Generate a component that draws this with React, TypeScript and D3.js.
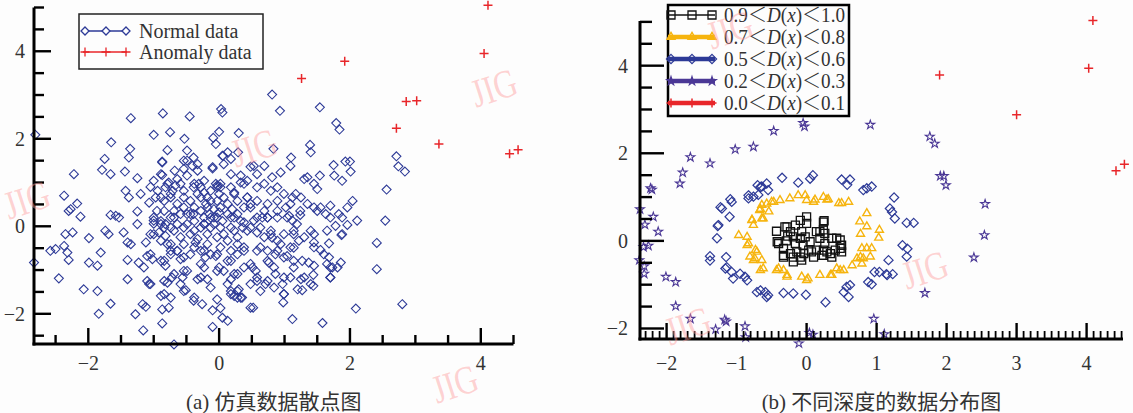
import React from "react";
import * as d3 from "d3";

// ---------- data ----------
const normalData: [number, number][] = [
  [0.03,2.68],[0.05,2.60],[-0.86,2.58],[-0.45,2.51],[-1.35,2.47],[-2.81,2.09],[0.30,2.13],[0.0,2.16],[-0.09,2.02],[-0.05,1.88],
  [-0.75,2.15],[-1.0,2.09],[-0.53,2.0],[-1.65,1.92],[-1.36,1.77],[-0.79,1.74],[-0.49,1.73],[0.06,1.61],[0.29,1.69],[-1.38,1.57],
  [-1.75,1.54],[-0.87,1.48],[-0.49,1.50],[-0.39,1.57],[-0.33,1.42],[-0.10,1.32],[0.07,1.42],[0.18,1.54],[0.48,1.36],[-1.79,1.29],
  [-1.66,1.19],[-2.22,1.19],[-1.44,1.25],[-1.25,1.10],[-0.87,1.17],[-0.68,1.27],[-0.54,1.31],[-1.05,0.90],[-0.79,0.97],[-0.64,1.08],
  [-0.31,0.97],[-0.03,0.93],[0.18,1.19],[0.33,1.16],[0.38,0.97],[-2.37,0.70],[-1.43,0.81],[-1.38,0.66],[-1.20,0.74],[-2.17,0.52],
  [-2.27,0.39],[-2.12,0.22],[-1.66,0.26],[-1.53,0.20],[-1.25,0.34],[-1.07,0.54],[-0.89,0.66],[-0.74,0.74],[-0.54,0.66],[-0.39,0.89],
  [-0.23,0.77],[0.02,0.89],[0.23,0.77],[0.43,0.66],[0.48,0.51],[-1.0,0.06],[-1.25,0.05],[-0.82,0.05],[-0.69,0.20],[-0.54,0.43],
  [-0.39,0.28],[-0.18,0.43],[-0.08,0.20],[0.0,0.32],[0.18,0.20],[0.38,0.09],[-0.23,0.05],
  [0.81,3.01],[0.93,2.64],[1.54,2.72],[1.79,2.36],[1.84,2.21],[1.39,1.86],[1.40,1.69],[0.83,1.77],[1.10,1.57],[1.09,1.38],
  [1.75,1.40],[1.93,1.48],[2.0,1.48],[2.01,1.25],[1.76,1.16],[1.88,1.04],[2.71,1.60],[2.74,1.37],[2.84,1.25],[2.56,0.84],
  [2.54,0.13],[0.53,1.38],[0.58,1.19],[0.69,1.38],[0.94,1.23],[0.81,1.12],[1.30,1.08],[1.35,1.12],[1.54,1.16],[1.45,0.97],
  [1.50,0.85],[1.17,0.74],[1.25,0.66],[1.12,0.66],[1.02,0.43],[1.07,0.24],[1.12,0.13],[1.24,0.26],[1.45,0.43],[1.55,0.43],
  [1.70,0.47],[1.63,0.28],[1.83,0.28],[1.96,0.43],[2.04,0.58],[1.78,0.01],[1.96,0.03],[2.11,0.13],[1.40,-0.10],[1.45,-0.18],
  [1.88,-0.18],[1.65,-0.10],[0.58,0.89],[0.69,0.97],[0.79,0.81],[0.89,0.89],[0.69,0.35],[0.66,0.20],[0.74,0.20],[0.89,0.35],
  [0.53,0.13],[0.63,-0.03],[0.79,-0.18],[0.99,-0.18],[1.14,-0.18],
  [2.41,-0.38],[2.41,-0.98],[2.80,-1.78],[2.09,-1.88],[1.58,-2.21],[1.12,-2.12],[0.52,-1.86],[1.87,-0.20],[1.68,-0.39],[1.55,-0.54],
  [1.45,-0.37],[1.68,-0.71],[1.86,-0.83],[1.70,-0.94],[1.81,-0.94],[1.70,-1.17],[1.44,-1.11],[1.44,-1.36],[1.25,-1.21],[1.14,-0.94],
  [1.27,-0.79],[1.37,-0.83],[1.20,-1.44],[1.27,-1.46],[0.99,-1.55],[0.98,-1.74],[0.97,-1.32],[0.86,-1.09],[0.76,-0.83],[0.71,-1.32],
  [0.58,-1.25],[0.56,-1.02],[1.04,-0.68],[1.14,-0.49],[1.22,-0.33],[0.86,-0.64],[0.94,-0.41],[0.81,-0.26],[0.35,-1.63],
  [-2.83,-0.83],[-2.58,-0.56],[-2.50,-0.52],[-2.37,-0.45],[-2.32,-0.60],[-2.30,-0.77],[-2.45,-1.19],[-2.35,-0.18],[-2.24,-0.14],[-2.30,0.35],
  [-1.99,-0.27],[-1.81,-0.60],[-1.99,-0.83],[-1.86,-0.90],[-2.07,-1.44],[-1.86,-1.48],[-1.66,-1.77],[-1.84,-2.0],[-1.58,0.24],[-1.74,-0.10],
  [-1.69,-0.18],[-1.46,-0.14],[-1.40,-0.37],[-1.35,-0.41],[-1.12,-0.37],[-1.10,-0.68],[-1.40,-0.77],[-1.23,-0.83],[-1.15,-0.94],[-1.40,-1.21],
  [-1.10,-1.25],[-1.07,-1.32],[-1.17,-1.78],[-1.12,-1.84],[-1.28,-2.01],[-1.16,-2.38],[-0.87,-2.22],[-0.87,-1.90],[-0.77,-1.86],[-0.74,-1.63],
  [-0.84,-1.55],[-0.79,-1.29],[-0.72,-1.17],[-0.51,-1.46],[-0.39,-1.70],[-0.26,-1.78],[-0.10,-1.92],[0.02,-1.87],[-0.10,-2.30],[0.05,-2.09],
  [0.13,-2.16],[-0.69,-2.70],[-1.02,-0.75],[-0.89,-0.79],[-0.82,-0.90],[-1.0,0.13],[-0.89,0.05],[-1.05,-0.18],[-0.92,-0.14],[-0.82,-0.22],
  [-0.79,-0.41],[-0.74,-0.64],[-0.64,-0.56],[-0.59,-0.75],[-0.54,-1.02],[-0.56,-1.17],[-0.36,-0.37],[-0.28,-0.56],[-0.21,-0.71],[-0.23,-0.94],
  [-0.18,-1.21],[-0.33,-1.21],[-0.05,-0.68],[0.0,-0.94],[0.07,-1.02],[0.18,-0.79],[0.28,-1.09],[0.18,-1.21],[0.30,-1.44],[0.18,-1.48],
  [0.23,-1.59],[0.33,-1.63],[0.48,-1.86],[0.51,-0.94],[0.38,-0.56],
  [-0.87,1.46],[-0.89,1.19],[-0.95,0.35],[-0.77,1.0],[-0.67,0.93],[-0.54,1.50],[-0.41,1.38],[-0.49,1.16],[-0.33,1.27],[-0.23,1.04],
  [-0.10,1.35],[0.05,1.61],[0.13,1.69],[-0.05,0.97],[0.02,0.97],[0.18,0.89],[0.33,1.0],[0.43,1.04],[0.0,0.74],[-0.18,0.66],
  [-0.33,0.74],[-0.44,0.58],[-0.54,0.81],[-0.64,0.51],[-0.74,0.66],[-0.84,0.58],[-0.97,0.66],[-1.0,0.20],[-0.84,-0.03],[-0.69,-0.10],
  [-0.59,-0.25],[-0.44,-0.18],[-0.33,-0.29],[-0.23,0.20],[-0.13,0.20],[-0.08,0.39],[0.02,0.43],[0.13,0.51],[0.28,0.58],[0.38,0.43],
  [0.23,0.20],[0.33,0.12],[0.18,-0.03],[0.43,-0.10],[0.28,-0.25],[0.07,-0.18],[-0.03,-0.25],[-0.13,-0.03],[-0.28,-0.03],[-0.38,0.12],
  [-0.49,0.28],[-0.74,0.20],[-0.89,0.12],[-1.05,-0.64],[-0.84,-0.79],[-0.74,-0.56],[-0.54,-0.71],[-0.38,-0.48],[-0.28,-0.86],[-0.13,-0.64],
  [0.02,-0.48],[0.13,-0.79],[0.28,-0.64],[0.38,-0.48],[0.48,-0.86],[0.58,-0.56],[0.74,-0.79],[0.84,-0.94],[0.99,-0.71],[1.09,-0.48],
  [1.14,-0.10],[1.24,0.35],[1.35,0.51],[1.50,0.35],[1.70,0.20],[1.88,0.20],[1.65,-0.86],[1.73,-0.94],[1.45,-0.90],[1.30,-1.17],
  [1.09,-1.17],[0.99,-1.55],[1.40,-1.32],[1.70,-1.17],[-1.05,-1.32],[-0.89,-1.59],[-0.54,-1.48],[-0.38,-1.63],[-0.03,-1.67],[0.18,-1.55],
  [0.28,-1.63],[0.48,-1.32],[0.58,-1.17],[0.74,-1.25],
  [-1.0,1.04],[-0.94,0.81],[-0.82,0.89],[-0.71,0.81],[-0.59,0.97],[-0.38,0.97],[-0.28,0.89],[-0.13,0.81],[-0.03,0.89],[-0.38,0.43],
  [-0.28,0.35],[-0.20,0.51],[-0.15,0.28],[-0.08,0.05],[-0.03,0.20],[0.05,0.12],[0.13,0.28],[0.20,0.39],[0.28,0.28],[0.36,-0.03],
  [0.48,-0.03],[0.58,-0.14],[0.58,0.20],[0.69,-0.25],[0.79,-0.10],[0.89,-0.33],[0.63,-0.48],[0.74,-0.56],[0.89,-0.56],[0.28,-0.41],
  [0.18,-0.56],[-0.03,-0.64],[-0.23,-0.56],[-0.44,-0.64],[-0.64,-0.56],[-0.74,-0.41],[-0.89,-0.33],[-1.0,-0.18],[-0.54,-0.41],[-0.18,-0.41],
  [0.13,-0.33],[-0.64,0.05],[-0.54,-0.03],[-0.74,-0.03],[-0.18,-0.18],[0.02,-0.03],[0.23,-0.10],[-0.38,-0.10],[-0.49,0.05],[-0.23,0.05],
  [-0.59,0.28],[-0.69,0.35],[-0.84,0.35],[-0.44,0.28],[-0.03,0.58],[-0.13,0.58],[-0.28,0.66],[0.07,0.66],[0.23,0.74],[0.43,0.66],
  [0.48,0.43],[0.58,0.58],[0.74,0.51],[0.89,0.58],[0.99,0.74],[1.09,0.51],[1.04,0.20],[0.89,0.20],[0.74,0.20],[1.19,0.05],
  [1.30,-0.25],[1.45,-0.48],[1.60,-0.64],[1.14,-0.79],[0.38,-0.94],[0.23,-1.09],[-0.03,-1.02],[-0.28,-1.17],[-0.49,-1.02],[-0.69,-1.09],
  [-0.84,-1.25],[-0.59,-1.32],[-0.13,-1.40],[0.13,-1.32],[0.28,-1.48],[0.63,-1.48],[0.84,-1.40],[0.99,-1.17],
];

const anomalyData: [number, number][] = [
  [4.11,5.05],[4.05,3.95],[1.92,3.77],[1.26,3.38],[2.86,2.85],[3.02,2.87],[2.71,2.24],[3.36,1.88],[4.44,1.66],[4.57,1.75],
];

// depth groups, right panel
const depth09: [number, number][] = [
  [-0.43,0.22],[-0.42,-0.02],[-0.31,0.32],[-0.27,0.11],[-0.29,0.0],[-0.33,-0.17],[-0.23,-0.29],[-0.14,-0.25],[-0.33,-0.37],[-0.19,-0.37],
  [-0.09,-0.37],[-0.16,0.36],[-0.09,0.47],[0.0,0.55],[0.0,0.40],[-0.07,0.21],[-0.02,0.09],[-0.09,0.06],[-0.19,0.09],[-0.23,0.21],
  [-0.16,-0.06],[-0.05,-0.10],[0.05,-0.02],[0.03,-0.21],[0.07,-0.25],[0.10,-0.37],[-0.04,-0.29],[0.19,0.21],[0.24,0.25],[0.26,0.17],
  [0.19,0.06],[0.26,-0.06],[0.24,-0.21],[0.29,-0.25],[0.24,-0.33],[0.36,0.06],[0.43,0.06],[0.48,0.02],[0.50,-0.10],[0.41,-0.21],
  [0.48,-0.17],[0.36,-0.37],[0.25,0.46],[-0.40,-0.06],[-0.33,-0.33],[-0.28,0.32],[-0.19,-0.48],[-0.07,-0.44],[0.14,-0.21],[0.24,0.43],
  [0.50,-0.25],[0.34,-0.29],[0.22,-0.33],[0.14,0.21],
];
const depth07: [number, number][] = [
  [-0.64,0.82],[-0.67,0.70],[-0.54,0.67],[-0.50,0.89],[-0.38,0.93],[-0.24,0.97],[-0.12,1.04],[-0.02,1.04],[0.0,0.93],[0.10,0.89],
  [0.24,1.0],[0.31,0.95],[0.46,0.86],[0.50,0.86],[0.60,0.89],[0.86,0.63],[0.76,0.44],[1.04,0.25],[-0.78,0.48],[-0.64,0.51],
  [-0.97,0.13],[-0.85,0.09],[-0.83,-0.06],[-0.73,-0.21],[-0.81,-0.36],[-0.76,-0.44],[-0.64,-0.44],[-0.62,-0.63],[-0.40,-0.63],[-0.28,-0.78],
  [-0.07,-0.82],[0.02,-0.86],[0.19,-0.78],[0.36,-0.78],[0.43,-0.63],[0.53,-0.67],[0.65,-0.56],[0.72,-0.40],[0.81,-0.40],[0.86,-0.17],
  [0.93,-0.17],[0.79,-0.17],[0.91,-0.36],[0.79,-0.52],[-0.85,-0.10],[-0.74,-0.40],[-0.71,-0.25],[-0.66,-0.67],[-0.43,-0.67],[-0.33,-0.67],
  [-0.28,-0.82],[0.0,-0.90],[0.34,-0.78],[0.48,-0.67],[0.77,-0.37],[0.86,0.33],[0.77,0.16],[1.03,0.07],[0.29,0.94],[0.12,0.94],
  [-0.47,0.89],[-0.57,0.85],[-0.66,0.73],[-0.78,0.47],[-0.76,0.36],[-0.62,0.51],
];
const depth05: [number, number][] = [
  [-0.35,1.44],[-0.12,1.33],[0.05,1.42],[0.09,1.50],[0.50,1.40],[0.62,1.40],[0.58,1.28],[0.81,1.16],[0.86,1.20],[-0.70,1.27],
  [-0.64,1.24],[-0.57,1.31],[-0.55,1.16],[-0.83,0.97],[-0.76,1.01],[-0.69,1.05],[-1.09,0.95],[-1.07,0.89],[-1.23,0.77],[-1.10,0.55],
  [-1.27,0.34],[-1.28,0.06],[-1.38,-0.35],[-1.15,-0.37],[-1.14,-0.60],[-1.07,-0.71],[-0.95,-0.75],[-0.85,-0.90],[-0.88,-0.82],[-1.05,-0.86],
  [-0.71,-1.17],[-0.59,-1.17],[-0.57,-1.28],[-0.33,-1.19],[-0.19,-1.20],[-0.01,-1.23],[0.27,-1.40],[0.53,-1.17],[0.60,-1.28],[0.62,-1.01],
  [0.88,-0.94],[0.97,-0.71],[0.93,1.24],[1.25,0.99],[1.19,0.74],[1.22,0.66],[1.26,0.51],[1.43,0.41],[1.53,0.41],[1.37,-0.10],
  [1.44,-0.18],[1.43,-0.36],[1.17,-0.44],[1.04,-0.71],[1.14,-0.76],[1.23,-0.76],[0.93,-0.99],[1.15,-0.78],[0.57,-1.05],[-0.66,-1.13],
  [-0.55,-1.24],[-1.16,-0.63],[-1.38,-0.45],[-1.26,0.36],[-1.21,0.74],[-0.83,1.04],[-0.66,1.23],
];
const depth02: [number, number][] = [
  [-0.47,2.51],[-0.05,2.69],[-0.03,2.61],[0.91,2.65],[-1.02,2.09],[-0.76,2.15],[-1.66,1.91],[-1.38,1.77],[-1.77,1.56],[-1.81,1.31],
  [-2.23,1.20],[-2.21,1.17],[-2.38,0.72],[-2.19,0.55],[-2.31,0.37],[-2.12,0.21],[-2.33,-0.14],[-2.26,-0.11],[-2.39,-0.44],[-2.32,-0.58],
  [-2.32,-0.75],[-2.01,-0.82],[-1.87,-0.94],[-1.87,-1.49],[-1.66,-1.78],[-1.17,-1.80],[-1.15,-1.84],[-1.30,-2.02],[-0.88,-1.95],[-0.87,-2.20],
  [-0.11,-2.34],[0.04,-2.10],[0.09,-2.14],[0.96,-1.78],[1.11,-2.13],[1.69,-1.19],[1.76,2.38],[1.83,2.22],[1.91,1.48],[1.96,1.48],
  [1.99,1.27],[2.55,0.84],[2.54,0.13],[2.39,-0.38],
];
const depth00: [number, number][] = [
  [4.09,5.03],[4.03,3.94],[1.90,3.79],[3.00,2.88],[4.42,1.60],[4.54,1.75],
];

const leftTicks = [-2, 0, 2, 4];
const rightXTicks = [-2, -1, 0, 1, 2, 3, 4];
const rightYTicks = [-2, 0, 2, 4];
const leftLegend = ["Normal data", "Anomaly data"];
const rightLegend: [string, string][] = [["0.9", "1.0"], ["0.7", "0.8"], ["0.5", "0.6"], ["0.2", "0.3"], ["0.0", "0.1"]];
const captions = ["(a) 仿真数据散点图", "(b) 不同深度的数据分布图"];
const watermarks: [number, number][] = [[27, 200], [254, 148], [494, 88], [455, 384], [730, 30], [688, 326], [925, 270]];

// ---------- styling ----------
const NAVY = "#2d3a97";
const RED = "#e8262a";
const ORANGE = "#f6b40e";
const PURPLE = "#4b3896";
const SERIF = "'Liberation Serif', 'Times New Roman', serif";
const CJK = "'Liberation Serif', 'Noto Sans CJK SC', serif";

const diamond = (r: number) => `M0,${-r}L${r},0L0,${r}L${-r},0Z`;
const square = (r: number) => `M${-r},${-r}H${r}V${r}H${-r}Z`;
const tri = (r: number) => `M0,${-r}L${r * 0.87},${r * 0.5}L${-r * 0.87},${r * 0.5}Z`;
const plus = (r: number) => `M${-r},0H${r}M0,${-r}V${r}`;
const star = d3.symbol(d3.symbolStar, 24)() as string;

function range(a: number, b: number, s: number) {
  const n = Math.round((b - a) / s);
  return d3.range(n + 1).map((i) => +(a + i * s).toFixed(4));
}

export default function App() {
  // left panel scales
  const xL = d3.scaleLinear().domain([-2.83, 4.5]).range([34, 513.5]);
  const yL = d3.scaleLinear().domain([-2.69, 5.0]).range([344, 7.5]);
  // right panel scales
  const xR = d3.scaleLinear().domain([-2.38, 4.52]).range([640, 1123]);
  const yR = d3.scaleLinear().domain([-2.24, 5.02]).range([339, 21]);

  const lx0 = xL(-2.83), ly0 = yL(-2.69);
  const rx0 = xR(-2.38), ry0 = yR(-2.24);

  const leftXMinor = range(-2.5, 4.5, 0.5);
  const leftYMinor = range(-2.5, 5.0, 0.5);
  const rightXMinor = range(-2.3, 4.5, 0.1);
  const rightYMinor = range(-2.0, 5.0, 0.5);

  const isMajorEven = (v: number) => Math.abs(v / 2 - Math.round(v / 2)) < 1e-6;
  const isInt = (v: number) => Math.abs(v - Math.round(v)) < 1e-6;

  const tickLabel = (v: number) => (v < 0 ? "\u2212" + Math.abs(v) : String(v));

  const symbolsRight = [
    { d: depth09, path: square(4), stroke: "#111", sw: 1.3, lineW: 1.3 },
    { d: depth07, path: tri(4.6), stroke: ORANGE, sw: 1.4, lineW: 4.5 },
    { d: depth05, path: diamond(4.6), stroke: NAVY, sw: 1.2, lineW: 4.5 },
    { d: depth02, path: star, stroke: PURPLE, sw: 1.1, lineW: 4.5 },
    { d: depth00, path: plus(4.5), stroke: RED, sw: 1.5, lineW: 4.5 },
  ];
  const drawOrder = [2, 3, 1, 0, 4];

  return (
    <div style={{ position: "absolute", left: 0, top: 0 }}>
      <svg width={1133} height={413} style={{ display: "block", background: "#fdfdfd" }}>
        <rect x={0} y={0} width={1133} height={413} fill="#fdfdfd" />

        {/* ---------------- LEFT PANEL ---------------- */}
        <g>
          {normalData.map(([x, y], i) => (
            <path key={"n" + i} d={diamond(4.5)} transform={`translate(${xL(x)},${yL(y)})`} fill="none" stroke={NAVY} strokeWidth={1.1} />
          ))}
          {anomalyData.map(([x, y], i) => (
            <path key={"a" + i} d={plus(4.5)} transform={`translate(${xL(x)},${yL(y)})`} fill="none" stroke={RED} strokeWidth={1.5} />
          ))}
          {/* axes */}
          <line x1={lx0} x2={lx0} y1={yL(5.0)} y2={ly0 + 1.5} stroke="#000" strokeWidth={3} />
          <line x1={lx0 - 1.5} x2={xL(4.5)} y1={ly0} y2={ly0} stroke="#000" strokeWidth={3} />
          {leftXMinor.map((t) => (
            <line key={"lxm" + t} x1={xL(t)} x2={xL(t)} y1={ly0} y2={ly0 - (isMajorEven(t) ? 16 : 9)} stroke="#000" strokeWidth={2.4} />
          ))}
          {leftYMinor.map((t) => (
            <line key={"lym" + t} x1={lx0} x2={lx0 + (isMajorEven(t) ? 17 : 10)} y1={yL(t)} y2={yL(t)} stroke="#000" strokeWidth={2.4} />
          ))}
          {leftTicks.map((t) => (
            <text key={"lxl" + t} x={xL(t)} y={370} textAnchor="middle" fontFamily={SERIF} fontSize={20} fill="#333">{tickLabel(t)}</text>
          ))}
          {leftTicks.map((t) => (
            <text key={"lyl" + t} x={lx0 - 9} y={yL(t) + 7} textAnchor="end" fontFamily={SERIF} fontSize={20} fill="#333">{tickLabel(t)}</text>
          ))}
          {/* legend */}
          <rect x={79} y={14} width={184} height={55} fill="#fdfdfd" stroke="#222" strokeWidth={1.5} />
          {leftLegend.map((label, i) => {
            const yy = 31 + i * 21;
            const col = i === 0 ? NAVY : RED;
            const p = i === 0 ? diamond(4) : plus(4.5);
            return (
              <g key={"ll" + i}>
                <line x1={83} x2={127} y1={yy} y2={yy} stroke={col} strokeWidth={1.3} />
                {[85, 106, 126].map((mx) => (
                  <path key={mx} d={p} transform={`translate(${mx},${yy})`} fill={i === 0 ? "#fdfdfd" : "none"} stroke={col} strokeWidth={1.3} />
                ))}
                <text x={139} y={yy + 7} fontFamily={SERIF} fontSize={20} fill="#333">{label}</text>
              </g>
            );
          })}
          <text x={(xL(-2.83) + xL(4.5)) / 2} y={409} textAnchor="middle" fontFamily={CJK} fontSize={21} fill="#333">{captions[0]}</text>
        </g>

        {/* ---------------- RIGHT PANEL ---------------- */}
        <g>
          {drawOrder.map((k) => {
            const s = symbolsRight[k];
            return s.d.map(([x, y], i) => (
              <path key={"r" + k + "_" + i} d={s.path} transform={`translate(${xR(x)},${yR(y)})`} fill="none" stroke={s.stroke} strokeWidth={s.sw} />
            ));
          })}
          <line x1={rx0} x2={rx0} y1={yR(5.02)} y2={ry0 + 1.5} stroke="#000" strokeWidth={3} />
          <line x1={rx0 - 1.5} x2={xR(4.52)} y1={ry0} y2={ry0} stroke="#000" strokeWidth={3} />
          {rightXMinor.map((t) => (
            <line key={"rxm" + t} x1={xR(t)} x2={xR(t)} y1={ry0} y2={ry0 - (isInt(t) ? 16 : 8)} stroke="#000" strokeWidth={isInt(t) ? 2.4 : 1.8} />
          ))}
          {rightYMinor.map((t) => (
            <line key={"rym" + t} x1={rx0} x2={rx0 + (isMajorEven(t) ? 24 : 12)} y1={yR(t)} y2={yR(t)} stroke="#000" strokeWidth={2.4} />
          ))}
          {rightXTicks.map((t) => (
            <text key={"rxl" + t} x={xR(t)} y={370} textAnchor="middle" fontFamily={SERIF} fontSize={20} fill="#333">{tickLabel(t)}</text>
          ))}
          {rightYTicks.map((t) => (
            <text key={"ryl" + t} x={rx0 - 12} y={yR(t) + 7} textAnchor="end" fontFamily={SERIF} fontSize={20} fill="#333">{tickLabel(t)}</text>
          ))}
          {/* legend */}
          <rect x={668} y={5} width={181} height={111} fill="#fdfdfd" stroke="#000" strokeWidth={2.5} />
          {rightLegend.map(([lo, hi], i) => {
            const yy = 15 + i * 22;
            const s = symbolsRight[i];
            return (
              <g key={"rl" + i}>
                <line x1={668} x2={715} y1={yy} y2={yy} stroke={s.stroke} strokeWidth={s.lineW} />
                {[671, 692, 712].map((mx) => (
                  <path key={mx} d={s.path} transform={`translate(${mx},${yy})`} fill="none" stroke={s.stroke} strokeWidth={s.sw} />
                ))}
                <text x={724} y={yy + 7} fontFamily={SERIF} fontSize={20} fill="#333" textLength={121} lengthAdjust="spacingAndGlyphs">
                  {lo}
                  <tspan fontFamily="'Noto Sans CJK SC'" fontWeight={300}>＜</tspan>
                  <tspan fontStyle="italic">D</tspan>(<tspan fontStyle="italic">x</tspan>)
                  <tspan fontFamily="'Noto Sans CJK SC'" fontWeight={300}>＜</tspan>
                  {hi}
                </text>
              </g>
            );
          })}
          <text x={(xR(-2.38) + xR(4.52)) / 2} y={409} textAnchor="middle" fontFamily={CJK} fontSize={21} fill="#333">{captions[1]}</text>
        </g>

        {/* watermarks */}
        {watermarks.map(([cx, cy], i) => (
          <text key={"w" + i} transform={`translate(${cx},${cy}) rotate(-18) scale(0.8,1)`} textAnchor="middle" dominantBaseline="central"
            fontFamily={SERIF} fontSize={40} fill="#ff9c9c" fillOpacity={0.45}>JIG</text>
        ))}
      </svg>
    </div>
  );
}
